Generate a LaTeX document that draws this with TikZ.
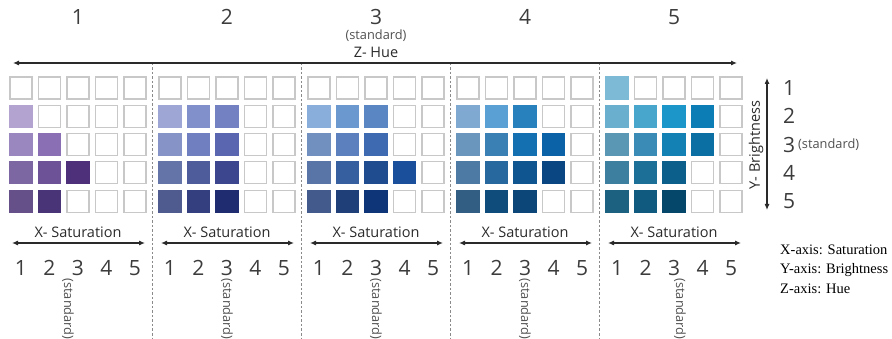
\documentclass[tikz,border=0pt]{standalone}
\usepackage{fontspec}
\setmainfont{Open Sans}
\newfontfamily\legendfont{Liberation Serif}
\usetikzlibrary{arrows.meta}
\definecolor{cellgray}{HTML}{C8C8C8}
\definecolor{sepgray}{HTML}{8A8A8A}
\definecolor{axisgray}{HTML}{2A2A2A}
\definecolor{numgray}{HTML}{3C3C3C}
\definecolor{notegray}{HTML}{505050}
\tikzset{
  emptycell/.style={draw=cellgray, fill=white, line width=1.2pt},
  sepline/.style={draw=sepgray, line width=0.8pt, dash pattern=on 2.5pt off 2pt},
  axisarrow/.style={draw=axisgray, line width=1.1pt, {Latex[length=6pt,width=5pt]}-{Latex[length=6pt,width=5pt]}},
  bignum/.style={text=numgray, inner sep=0pt, font=\fontsize{21}{21}\selectfont},
  axislab/.style={text=axisgray, inner sep=0pt, font=\fontsize{14.5}{15}\selectfont},
  note/.style={text=notegray, inner sep=0pt, font=\fontsize{12.8}{13}\selectfont},
  legend/.style={text=black, inner sep=0pt, anchor=west, font=\legendfont\fontsize{14.5}{15}\selectfont},
}

\begin{document}
\begin{tikzpicture}[x=1pt,y=-1pt]
  \useasboundingbox (0,0) rectangle (892,339);

  % empty grids
  \foreach \g in {0,...,4}
    \foreach \r in {0,...,4}
      \foreach \c in {0,...,4}
        \draw[emptycell] ({10+149*\g+28.5*\c},{77+28.3*\r}) rectangle +(22,22);

  % coloured cells: row/column/colour
  \foreach \g/\cells in {
    0/{1/0/B3A3D0,2/0/9B87C0,2/1/8A6FB4,3/0/7D67A3,3/1/6D5298,3/2/4E2F7A,4/0/66508A,4/1/4A3478},
    1/{1/0/9EA6D6,1/1/8190CA,1/2/7380C2,2/0/8593C7,2/1/6F7FBF,2/2/5A66B0,3/0/6574A8,3/1/4F5C9C,3/2/3B468F,4/0/4F5A8F,4/1/343F7F,4/2/1F2D70},
    2/{1/0/8AAEDB,1/1/6A98CF,1/2/5A87C3,2/0/7190BF,2/1/5C7FBD,2/2/3E6AB2,3/0/5974A6,3/1/355F9F,3/2/1F4B8F,3/3/1A4F9C,4/0/435B8C,4/1/1F3F79,4/2/0D3577},
    3/{1/0/7FA9D0,1/1/5AA0D4,1/2/2880BD,2/0/6A96BD,2/1/3A80B4,2/2/1470B0,2/3/0B62A6,3/0/4D7AA4,3/1/27689F,3/2/0F558F,3/3/0A4682,4/0/315E82,4/1/0F4C7C,4/2/0C4678},
    4/{0/0/7DBAD6,1/0/6AB0CE,1/1/48A5CC,1/2/1C95C8,1/3/0D7EB5,2/0/5A97B5,2/1/3A8CB6,2/2/1481B4,2/3/0B6FA3,3/0/3D7F9F,3/1/1C6F96,3/2/0C5E8B,4/0/1C6280,4/1/0F5A7E,4/2/05466B}} {
    \foreach \r/\c/\hex in \cells {
      \definecolor{cellfill}{HTML}{\hex}
      \filldraw[draw=cellfill, fill=cellfill, line width=1.2pt]
        ({10+149*\g+28.5*\c},{77+28.3*\r}) rectangle +(22,22);
    }
  }

  % hue axis
  \foreach \x in {152.5,301.5,450.5,599.5}
    \draw[sepline] (\x,63) -- (\x,339);
  \coordinate (zl) at (13,63);
  \coordinate (zr) at (737,63);
  \draw[axisarrow] (zl) -- (zr);
  \node[axislab] (zlab) at (376,52) {Z- Hue};
  \node[note] (zstd) at (376,36) {(standard)};
  \foreach \g in {1,...,5}
    \node[bignum] (hue\g) at ({78+149*(\g-1)},17) {\g};

  % saturation axes
  \foreach \g in {0,...,4} {
    \coordinate (xl\g) at ({12+149*\g},243);
    \coordinate (xr\g) at ({145+149*\g},243);
    \draw[axisarrow] (xl\g) -- (xr\g);
    \node[axislab] (xlab\g) at ({78+149*\g},232) {X- Saturation};
    \foreach \c in {1,...,5}
      \node[bignum] (sat\g\c) at ({21+149*\g+28.5*(\c-1)},268) {\c};
  }
  \foreach \g/\x in {0/68,1/227,2/376,3/525,4/680}
    \node[note, rotate=-90] (xstd\g) at (\x,309) {(standard)};

  % brightness axis
  \coordinate (yt) at (767,78);
  \coordinate (yb) at (767,210);
  \draw[axisarrow] (yt) -- (yb);
  \node[axislab, rotate=90] (ylab) at (756,145) {Y- Brightness};
  \foreach \r in {1,...,5}
    \node[bignum] (bri\r) at (789,{88+28.3*(\r-1)}) {\r};
  \node[note, anchor=west] (ystd) at (798,145) {(standard)};

  % legend
  \node[legend] (legx) at (780,250) {X-axis: Saturation};
  \node[legend] (legy) at (780,270) {Y-axis: Brightness};
  \node[legend] (legz) at (780,289) {Z-axis: Hue};
\end{tikzpicture}
\end{document}
